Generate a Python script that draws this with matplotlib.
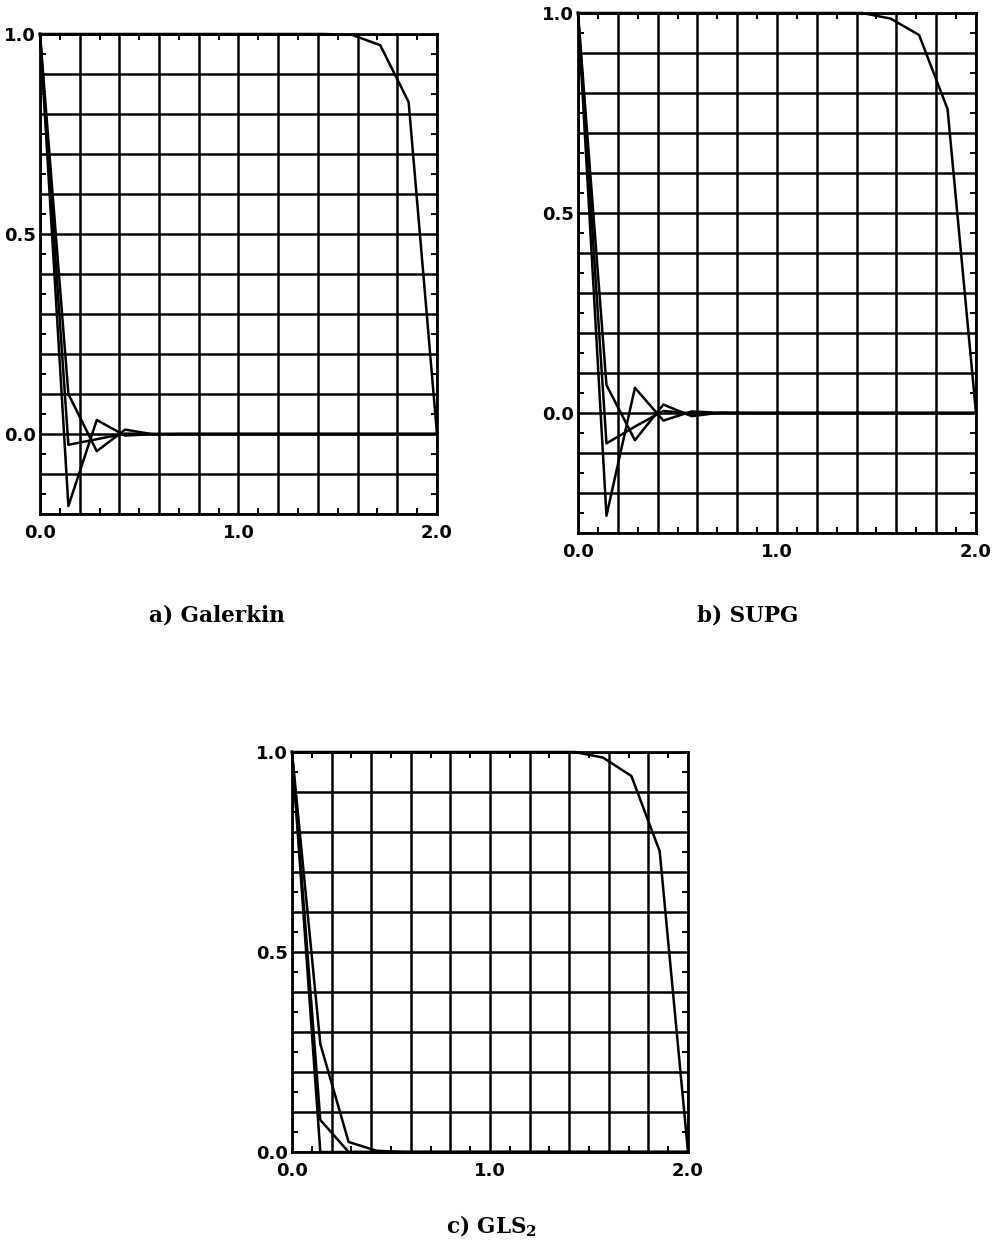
import matplotlib
matplotlib.use("Agg")
import matplotlib.pyplot as plt
from matplotlib.ticker import FixedLocator, FuncFormatter

# ---------------- data ----------------
x_nodes = [0.0, 0.143, 0.286, 0.429, 0.571, 0.714, 0.857, 1.0,
           1.143, 1.286, 1.429, 1.571, 1.714, 1.857, 2.0]

# a) Galerkin
gal_1 = [1.0, -0.18, 0.035, -0.004, 0.0, 0.0, 0.0, 0.0, 0.0, 0.0, 0.0, 0.0, 0.0, 0.0, 0.0]
gal_2 = [1.0, 0.10, -0.043, 0.011, -0.001, 0.0, 0.0, 0.0, 0.0, 0.0, 0.0, 0.0, 0.0, 0.0, 0.0]
gal_3 = [1.0, -0.027, -0.013, 0.001, 0.0, 0.0, 0.0, 0.0, 0.0, 0.0, 0.0, 0.0, 0.0, 0.0, 0.0]
gal_4 = [1.0, 1.0, 1.0, 1.0, 1.0, 1.0, 1.0, 1.0, 1.0, 1.0, 1.0, 0.998, 0.972, 0.83, 0.0]

# b) SUPG
sup_1 = [1.0, -0.257, 0.063, -0.019, 0.004, 0.0, 0.0, 0.0, 0.0, 0.0, 0.0, 0.0, 0.0, 0.0, 0.0]
sup_2 = [1.0, 0.07, -0.068, 0.021, -0.008, 0.001, 0.0, 0.0, 0.0, 0.0, 0.0, 0.0, 0.0, 0.0, 0.0]
sup_3 = [1.0, -0.076, -0.034, 0.005, -0.001, 0.0, 0.0, 0.0, 0.0, 0.0, 0.0, 0.0, 0.0, 0.0, 0.0]
sup_4 = [1.0, 1.0, 1.0, 1.0, 1.0, 1.0, 1.0, 1.0, 1.0, 1.0, 1.0, 0.986, 0.945, 0.76, 0.0]

# c) GLS2
gls_1 = [1.0, 0.0, 0.0, 0.0, 0.0, 0.0, 0.0, 0.0, 0.0, 0.0, 0.0, 0.0, 0.0, 0.0, 0.0]
gls_2 = [1.0, 0.08, 0.0, 0.0, 0.0, 0.0, 0.0, 0.0, 0.0, 0.0, 0.0, 0.0, 0.0, 0.0, 0.0]
gls_3 = [1.0, 0.27, 0.025, 0.003, 0.0, 0.0, 0.0, 0.0, 0.0, 0.0, 0.0, 0.0, 0.0, 0.0, 0.0]
gls_4 = [1.0, 1.0, 1.0, 1.0, 1.0, 1.0, 1.0, 1.0, 1.0, 1.0, 1.0, 0.986, 0.94, 0.752, 0.0]

x_labels = {0.0: "0.0", 1.0: "1.0", 2.0: "2.0"}
y_labels = {0.0: "0.0", 0.5: "0.5", 1.0: "1.0"}

captions = ["a) Galerkin", "b) SUPG", r"c) GLS$_{\mathbf{2}}$"]

# ---------------- figure ----------------
W, H = 995, 1249
fig = plt.figure(figsize=(W / 100, H / 100), dpi=100)
plt.rcParams['mathtext.fontset'] = 'dejavuserif'


def px_axes(left, top, right, bottom):
    return fig.add_axes([left / W, 1 - bottom / H, (right - left) / W, (bottom - top) / H])


def setup(ax, ymin):
    ax.set_xlim(0.0, 2.0)
    ax.set_ylim(ymin, 1.0)
    xmaj = [round(0.2 * i, 1) for i in range(11)]
    xmin = [round(0.1 + 0.2 * i, 1) for i in range(10)]
    n = int(round((1.0 - ymin) / 0.1))
    ymaj = [round(ymin + 0.1 * i, 2) for i in range(n + 1)]
    ymn = [round(ymin + 0.05 + 0.1 * i, 3) for i in range(n)]
    ax.xaxis.set_major_locator(FixedLocator(xmaj))
    ax.xaxis.set_minor_locator(FixedLocator(xmin))
    ax.yaxis.set_major_locator(FixedLocator(ymaj))
    ax.yaxis.set_minor_locator(FixedLocator(ymn))
    ax.xaxis.set_major_formatter(FuncFormatter(
        lambda v, p: x_labels.get(round(v, 1), "")))
    ax.yaxis.set_major_formatter(FuncFormatter(
        lambda v, p: y_labels.get(round(v, 2), "")))
    ax.grid(True, which='major', color='black', linewidth=1.8)
    ax.tick_params(which='major', length=0, labelsize=13, pad=3)
    ax.tick_params(axis='x', which='major', pad=7)
    ax.tick_params(which='minor', direction='in', length=4, width=1.4,
                   top=True, right=True, bottom=True, left=True)
    for lab in ax.get_xticklabels() + ax.get_yticklabels():
        lab.set_fontweight('bold')
        lab.set_family('DejaVu Sans')
    for s in ax.spines.values():
        s.set_linewidth(2.0)
    ax.set_axisbelow(True)


axA = px_axes(40, 34, 437, 514)
setup(axA, -0.2)
for ys in (gal_1, gal_2, gal_3, gal_4):
    axA.plot(x_nodes, ys, color='black', linewidth=1.8, clip_on=False)

axB = px_axes(578, 13, 976, 533)
setup(axB, -0.3)
for ys in (sup_1, sup_2, sup_3, sup_4):
    axB.plot(x_nodes, ys, color='black', linewidth=1.8, clip_on=False)

axC = px_axes(292, 752, 688, 1152)
setup(axC, 0.0)
for ys in (gls_1, gls_2, gls_3, gls_4):
    axC.plot(x_nodes, ys, color='black', linewidth=1.8, clip_on=False)

cap_kw = dict(ha='center', va='center', fontsize=15.5, fontweight='bold',
              family='DejaVu Serif')
fig.text(217 / W, 1 - 615 / H, captions[0], **cap_kw)
fig.text(748 / W, 1 - 615 / H, captions[1], **cap_kw)
fig.text(492 / W, 1 - 1226 / H, captions[2], **cap_kw)

fig.savefig("out.png", dpi=100)
